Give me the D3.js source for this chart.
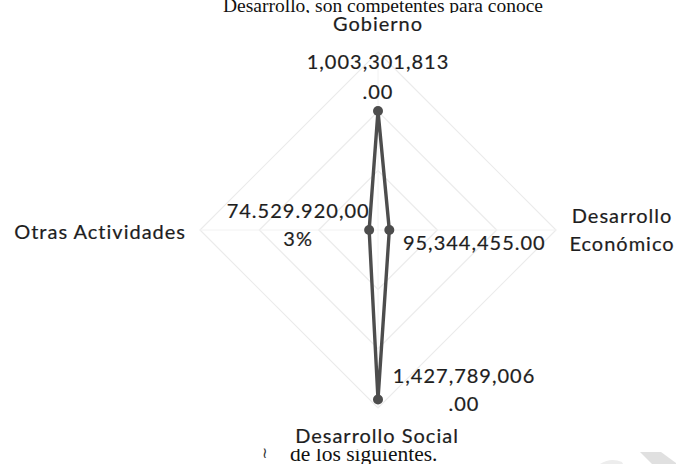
<!DOCTYPE html>
<html>
<head>
<meta charset="utf-8">
<script src="https://cdn.jsdelivr.net/npm/d3@7/dist/d3.min.js"></script>
<style>
  html, body { margin: 0; padding: 0; background: #fff; }
  svg { display: block; }
</style>
</head>
<body>
<svg id="chart" width="676" height="464"></svg>
<script>
// ---- data ----
const categories = ["Gobierno", "Desarrollo Económico", "Desarrollo Social", "Otras Actividades"];
const values = [1003301813.00, 95344455.00, 1427789006.00, 74529920.00];
const dataLabels = [
  ["1,003,301,813", ".00"],
  ["95,344,455.00"],
  ["1,427,789,006", ".00"],
  ["74.529.920,00", "3%"]
];
const categoryLabels = [
  ["Gobierno"],
  ["Desarrollo", "Económico"],
  ["Desarrollo Social"],
  ["Otras Actividades"]
];
const gridTicks = [500000000, 1000000000, 1500000000];
const docTextTop = "Desarrollo, son competentes para conoce";
const docTextBottom = "de los siguientes.";

// ---- layout ----
const W = 676, H = 464;
const cx = 378, cy = 230, R = 178;
const svg = d3.select("#chart");
const font = "Lato, 'Open Sans', sans-serif";
const serif = "'Liberation Serif', 'Times New Roman', serif";

// document text behind chart
svg.append("text").attr("x", 223).attr("y", 12)
  .attr("font-family", serif)
  .attr("font-size", 19.5).attr("fill", "#111").text(docTextTop);
svg.append("text").attr("x", 290).attr("y", 461)
  .attr("font-family", serif)
  .attr("font-size", 21.5).attr("fill", "#111").text(docTextBottom);

// chart area (white) covering the document text
svg.append("rect").attr("x", 0).attr("y", 13).attr("width", W).attr("height", 436).attr("fill", "#fff");

// small mark left of the bottom text
svg.append("text").attr("x", 262).attr("y", 458)
  .attr("font-family", "'DejaVu Serif', serif")
  .attr("font-size", 15).attr("fill", "#333").text("≀");

// watermark fragment
svg.append("path").attr("d", "M640,452 L661,452 L676,463 L676,464 L652,464 Z").attr("fill", "#e0e0e0");
svg.append("path").attr("d", "M600,464 Q611,457 622,462 L623,464 Z").attr("fill", "#ededed");

const r = d3.scaleLinear().domain([0, 1500000000]).range([0, R]);
const angle = d3.scalePoint().domain(d3.range(categories.length)).range([0, 2 * Math.PI * (categories.length - 1) / categories.length]);

const g = svg.append("g").attr("transform", `translate(${cx},${cy})`);

// grid diamonds
const gridLine = d3.lineRadial().curve(d3.curveLinearClosed);
g.selectAll("path.grid").data(gridTicks).join("path")
  .attr("class", "grid")
  .attr("d", t => gridLine(categories.map((c, i) => [angle(i), r(t)])))
  .attr("fill", "none").attr("stroke", "#ebebeb").attr("stroke-width", 1.2);

// spokes
g.selectAll("line.spoke").data(categories).join("line")
  .attr("x1", 0).attr("y1", 0)
  .attr("x2", (c, i) => r(1500000000) * Math.sin(angle(i)))
  .attr("y2", (c, i) => -r(1500000000) * Math.cos(angle(i)))
  .attr("stroke", "#f2f2f2").attr("stroke-width", 1);

// series
const pts = values.map((v, i) => [angle(i), r(v)]);
g.append("path")
  .attr("d", d3.lineRadial().curve(d3.curveLinearClosed)(pts))
  .attr("fill", "none").attr("stroke", "#4d4d4d").attr("stroke-width", 3.4).attr("stroke-linejoin", "round");
g.selectAll("circle.pt").data(values).join("circle")
  .attr("cx", (v, i) => r(v) * Math.sin(angle(i)))
  .attr("cy", (v, i) => -r(v) * Math.cos(angle(i)))
  .attr("r", 5).attr("fill", "#4d4d4d");

const textStyle = sel => sel.attr("font-family", font).attr("font-size", 20)
  .attr("letter-spacing", 1).attr("fill", "#1e1e1e")
  .attr("stroke", "#1e1e1e").attr("stroke-width", 0.2);

// data labels (offsets relative to each point)
const dlOffsets = [
  { dx: 0, dy: -42, lh: 30 },
  { dx: 85, dy: 20, lh: 28 },
  { dx: 86, dy: -16, lh: 28 },
  { dx: -71, dy: -12, lh: 28 }
];
values.forEach((v, i) => {
  const x = r(v) * Math.sin(angle(i)), y = -r(v) * Math.cos(angle(i));
  const o = dlOffsets[i];
  const t = g.append("text").call(textStyle).attr("text-anchor", "middle");
  dataLabels[i].forEach((line, k) => {
    t.append("tspan").attr("x", x + o.dx).attr("y", y + o.dy + k * o.lh).text(line);
  });
});

// category labels
const catPos = [
  { x: 0, y: -199, anchor: "middle" },
  { x: 244, y: -7, anchor: "middle" },
  { x: -1, y: 213, anchor: "middle" },
  { x: -192, y: 9, anchor: "end" }
];
categoryLabels.forEach((lines, i) => {
  const p = catPos[i];
  const t = g.append("text").call(textStyle).attr("text-anchor", p.anchor);
  lines.forEach((line, k) => {
    t.append("tspan").attr("x", p.x).attr("y", p.y + k * 28).text(line);
  });
});
</script>
</body>
</html>
